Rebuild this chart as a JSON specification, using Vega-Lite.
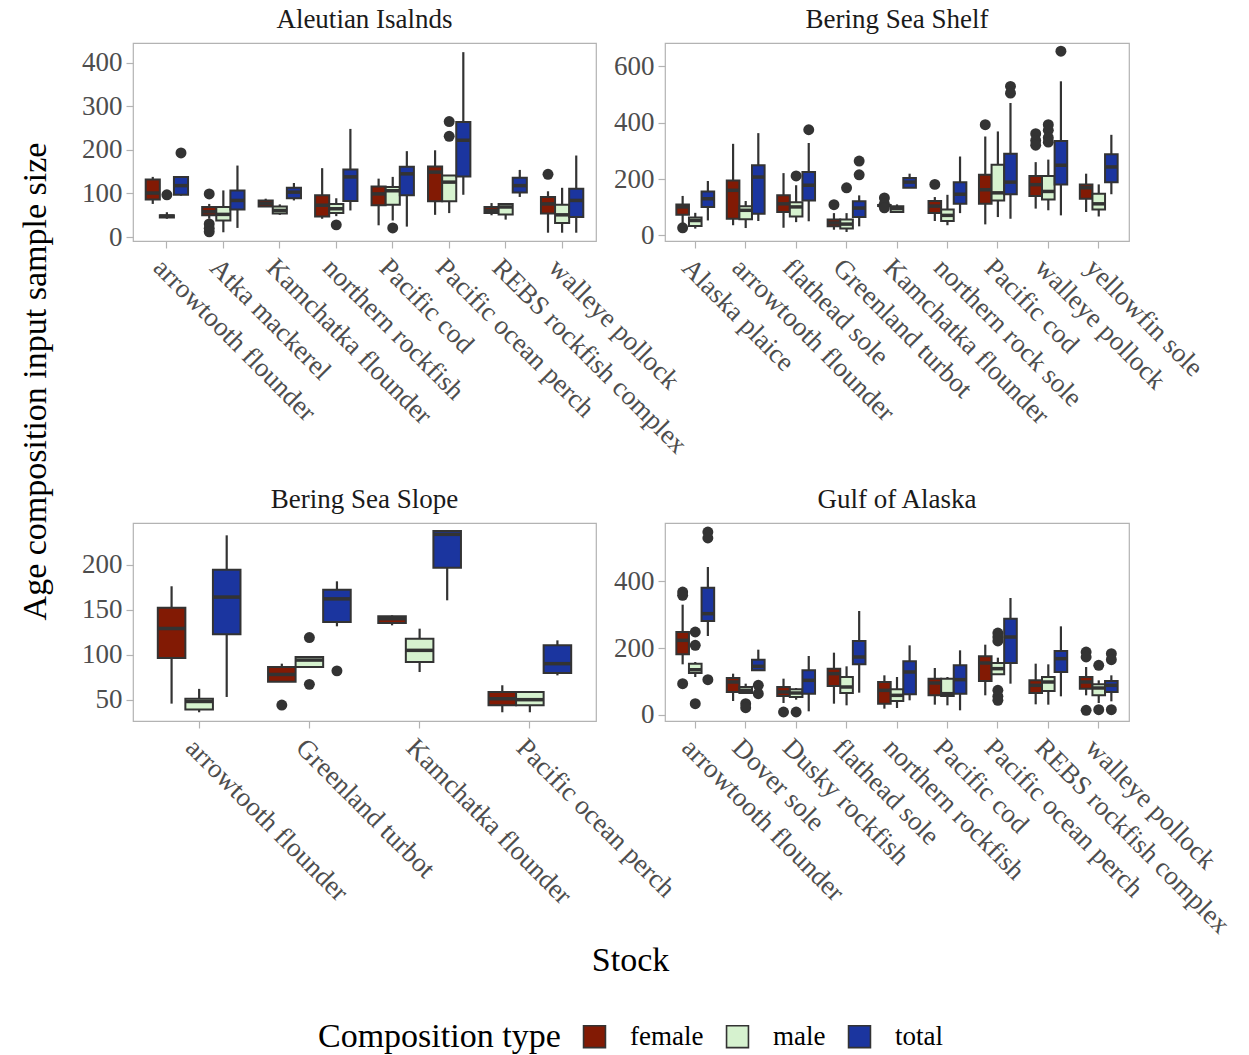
{
  "$schema": "https://vega.github.io/schema/vega-lite/v6.json",
  "padding": {"left": 17, "top": 5, "right": 5, "bottom": 0},
  "datasets": {
    "boxes": [
      {"region": "Aleutian Isalnds", "stock": "arrowtooth flounder", "type": "female", "lower": 76, "q1": 86, "median": 101, "q3": 132, "upper": 138},
      {"region": "Aleutian Isalnds", "stock": "arrowtooth flounder", "type": "male", "lower": 42, "q1": 45, "median": 48, "q3": 50, "upper": 57},
      {"region": "Aleutian Isalnds", "stock": "arrowtooth flounder", "type": "total", "lower": 95, "q1": 97, "median": 118, "q3": 138, "upper": 139},
      {"region": "Aleutian Isalnds", "stock": "Atka mackerel", "type": "female", "lower": 42, "q1": 50, "median": 58, "q3": 69, "upper": 76},
      {"region": "Aleutian Isalnds", "stock": "Atka mackerel", "type": "male", "lower": 11, "q1": 38, "median": 52, "q3": 69, "upper": 107},
      {"region": "Aleutian Isalnds", "stock": "Atka mackerel", "type": "total", "lower": 21, "q1": 63, "median": 84, "q3": 107, "upper": 164},
      {"region": "Aleutian Isalnds", "stock": "Kamchatka flounder", "type": "female", "lower": 69, "q1": 70, "median": 77, "q3": 84, "upper": 88},
      {"region": "Aleutian Isalnds", "stock": "Kamchatka flounder", "type": "male", "lower": 51, "q1": 54, "median": 61, "q3": 70, "upper": 75},
      {"region": "Aleutian Isalnds", "stock": "Kamchatka flounder", "type": "total", "lower": 84, "q1": 89, "median": 103, "q3": 113, "upper": 124},
      {"region": "Aleutian Isalnds", "stock": "northern rockfish", "type": "female", "lower": 42, "q1": 47, "median": 73, "q3": 96, "upper": 158},
      {"region": "Aleutian Isalnds", "stock": "northern rockfish", "type": "male", "lower": 48, "q1": 55, "median": 65, "q3": 76, "upper": 89},
      {"region": "Aleutian Isalnds", "stock": "northern rockfish", "type": "total", "lower": 61, "q1": 83, "median": 138, "q3": 155, "upper": 248},
      {"region": "Aleutian Isalnds", "stock": "Pacific cod", "type": "female", "lower": 27, "q1": 73, "median": 99, "q3": 116, "upper": 134},
      {"region": "Aleutian Isalnds", "stock": "Pacific cod", "type": "male", "lower": 38, "q1": 74, "median": 106, "q3": 115, "upper": 138},
      {"region": "Aleutian Isalnds", "stock": "Pacific cod", "type": "total", "lower": 24, "q1": 96, "median": 145, "q3": 161, "upper": 197},
      {"region": "Aleutian Isalnds", "stock": "Pacific ocean perch", "type": "female", "lower": 51, "q1": 82, "median": 149, "q3": 162, "upper": 199},
      {"region": "Aleutian Isalnds", "stock": "Pacific ocean perch", "type": "male", "lower": 55, "q1": 82, "median": 126, "q3": 141, "upper": 141},
      {"region": "Aleutian Isalnds", "stock": "Pacific ocean perch", "type": "total", "lower": 97, "q1": 139, "median": 222, "q3": 264, "upper": 424},
      {"region": "Aleutian Isalnds", "stock": "REBS rockfish complex", "type": "female", "lower": 50, "q1": 55, "median": 61, "q3": 69, "upper": 78},
      {"region": "Aleutian Isalnds", "stock": "REBS rockfish complex", "type": "male", "lower": 40, "q1": 52, "median": 69, "q3": 76, "upper": 76},
      {"region": "Aleutian Isalnds", "stock": "REBS rockfish complex", "type": "total", "lower": 92, "q1": 102, "median": 118, "q3": 136, "upper": 154},
      {"region": "Aleutian Isalnds", "stock": "walleye pollock", "type": "female", "lower": 10, "q1": 54, "median": 76, "q3": 92, "upper": 105},
      {"region": "Aleutian Isalnds", "stock": "walleye pollock", "type": "male", "lower": 10, "q1": 32, "median": 51, "q3": 74, "upper": 113},
      {"region": "Aleutian Isalnds", "stock": "walleye pollock", "type": "total", "lower": 10, "q1": 46, "median": 84, "q3": 111, "upper": 187},

      {"region": "Bering Sea Shelf", "stock": "Alaska plaice", "type": "female", "lower": 40, "q1": 73, "median": 101, "q3": 110, "upper": 140},
      {"region": "Bering Sea Shelf", "stock": "Alaska plaice", "type": "male", "lower": 24, "q1": 33, "median": 53, "q3": 63, "upper": 80},
      {"region": "Bering Sea Shelf", "stock": "Alaska plaice", "type": "total", "lower": 53, "q1": 101, "median": 130, "q3": 156, "upper": 193},
      {"region": "Bering Sea Shelf", "stock": "arrowtooth flounder", "type": "female", "lower": 36, "q1": 59, "median": 160, "q3": 195, "upper": 325},
      {"region": "Bering Sea Shelf", "stock": "arrowtooth flounder", "type": "male", "lower": 26, "q1": 57, "median": 89, "q3": 103, "upper": 122},
      {"region": "Bering Sea Shelf", "stock": "arrowtooth flounder", "type": "total", "lower": 51, "q1": 77, "median": 207, "q3": 249, "upper": 363},
      {"region": "Bering Sea Shelf", "stock": "flathead sole", "type": "female", "lower": 27, "q1": 83, "median": 112, "q3": 142, "upper": 221},
      {"region": "Bering Sea Shelf", "stock": "flathead sole", "type": "male", "lower": 47, "q1": 67, "median": 101, "q3": 118, "upper": 178},
      {"region": "Bering Sea Shelf", "stock": "flathead sole", "type": "total", "lower": 50, "q1": 124, "median": 178, "q3": 225, "upper": 328},
      {"region": "Bering Sea Shelf", "stock": "Greenland turbot", "type": "female", "lower": 20, "q1": 32, "median": 44, "q3": 56, "upper": 79},
      {"region": "Bering Sea Shelf", "stock": "Greenland turbot", "type": "male", "lower": 12, "q1": 24, "median": 40, "q3": 56, "upper": 79},
      {"region": "Bering Sea Shelf", "stock": "Greenland turbot", "type": "total", "lower": 32, "q1": 65, "median": 97, "q3": 121, "upper": 142},
      {"region": "Bering Sea Shelf", "stock": "Kamchatka flounder", "type": "female", "lower": 104, "q1": 104, "median": 106, "q3": 108, "upper": 108},
      {"region": "Bering Sea Shelf", "stock": "Kamchatka flounder", "type": "male", "lower": 83, "q1": 83, "median": 95, "q3": 103, "upper": 110},
      {"region": "Bering Sea Shelf", "stock": "Kamchatka flounder", "type": "total", "lower": 169, "q1": 169, "median": 189, "q3": 204, "upper": 219},
      {"region": "Bering Sea Shelf", "stock": "northern rock sole", "type": "female", "lower": 51, "q1": 79, "median": 104, "q3": 122, "upper": 136},
      {"region": "Bering Sea Shelf", "stock": "northern rock sole", "type": "male", "lower": 36, "q1": 51, "median": 71, "q3": 92, "upper": 144},
      {"region": "Bering Sea Shelf", "stock": "northern rock sole", "type": "total", "lower": 79, "q1": 112, "median": 146, "q3": 189, "upper": 280},
      {"region": "Bering Sea Shelf", "stock": "Pacific cod", "type": "female", "lower": 39, "q1": 112, "median": 162, "q3": 215, "upper": 351},
      {"region": "Bering Sea Shelf", "stock": "Pacific cod", "type": "male", "lower": 65, "q1": 124, "median": 151, "q3": 251, "upper": 369},
      {"region": "Bering Sea Shelf", "stock": "Pacific cod", "type": "total", "lower": 59, "q1": 146, "median": 189, "q3": 290, "upper": 470},
      {"region": "Bering Sea Shelf", "stock": "walleye pollock", "type": "female", "lower": 95, "q1": 140, "median": 180, "q3": 211, "upper": 260},
      {"region": "Bering Sea Shelf", "stock": "walleye pollock", "type": "male", "lower": 89, "q1": 127, "median": 156, "q3": 211, "upper": 269},
      {"region": "Bering Sea Shelf", "stock": "walleye pollock", "type": "total", "lower": 71, "q1": 181, "median": 249, "q3": 335, "upper": 547},
      {"region": "Bering Sea Shelf", "stock": "yellowfin sole", "type": "female", "lower": 83, "q1": 130, "median": 169, "q3": 181, "upper": 219},
      {"region": "Bering Sea Shelf", "stock": "yellowfin sole", "type": "male", "lower": 67, "q1": 92, "median": 112, "q3": 148, "upper": 181},
      {"region": "Bering Sea Shelf", "stock": "yellowfin sole", "type": "total", "lower": 146, "q1": 189, "median": 243, "q3": 288, "upper": 357},

      {"region": "Bering Sea Slope", "stock": "arrowtooth flounder", "type": "female", "lower": 45.6, "q1": 96.3, "median": 129, "q3": 152.2, "upper": 176},
      {"region": "Bering Sea Slope", "stock": "arrowtooth flounder", "type": "male", "lower": 36, "q1": 39, "median": 48, "q3": 51, "upper": 62},
      {"region": "Bering Sea Slope", "stock": "arrowtooth flounder", "type": "total", "lower": 53, "q1": 122.6, "median": 164, "q3": 194.4, "upper": 232.6},
      {"region": "Bering Sea Slope", "stock": "Greenland turbot", "type": "female", "lower": 70, "q1": 70, "median": 78, "q3": 86.3, "upper": 90},
      {"region": "Bering Sea Slope", "stock": "Greenland turbot", "type": "male", "lower": 86, "q1": 86.3, "median": 94, "q3": 97.4, "upper": 98},
      {"region": "Bering Sea Slope", "stock": "Greenland turbot", "type": "total", "lower": 131.5, "q1": 136.3, "median": 162, "q3": 172, "upper": 181.5},
      {"region": "Bering Sea Slope", "stock": "Kamchatka flounder", "type": "female", "lower": 132.6, "q1": 135.2, "median": 140, "q3": 142.6, "upper": 143.7},
      {"region": "Bering Sea Slope", "stock": "Kamchatka flounder", "type": "male", "lower": 80.7, "q1": 91.9, "median": 104.8, "q3": 117.8, "upper": 128.9},
      {"region": "Bering Sea Slope", "stock": "Kamchatka flounder", "type": "total", "lower": 160.4, "q1": 196.7, "median": 233.7, "q3": 237.4, "upper": 237.4},
      {"region": "Bering Sea Slope", "stock": "Pacific ocean perch", "type": "female", "lower": 36, "q1": 43.7, "median": 51, "q3": 58.5, "upper": 66},
      {"region": "Bering Sea Slope", "stock": "Pacific ocean perch", "type": "male", "lower": 36, "q1": 43.7, "median": 50, "q3": 58.5, "upper": 58.5},
      {"region": "Bering Sea Slope", "stock": "Pacific ocean perch", "type": "total", "lower": 77, "q1": 79.6, "median": 90, "q3": 110.4, "upper": 115.9},

      {"region": "Gulf of Alaska", "stock": "arrowtooth flounder", "type": "female", "lower": 151, "q1": 181, "median": 223, "q3": 248, "upper": 330},
      {"region": "Gulf of Alaska", "stock": "arrowtooth flounder", "type": "male", "lower": 113, "q1": 125, "median": 135, "q3": 153, "upper": 158},
      {"region": "Gulf of Alaska", "stock": "arrowtooth flounder", "type": "total", "lower": 236, "q1": 281, "median": 303, "q3": 381, "upper": 443},
      {"region": "Gulf of Alaska", "stock": "Dover sole", "type": "female", "lower": 41, "q1": 68, "median": 98, "q3": 110, "upper": 123},
      {"region": "Gulf of Alaska", "stock": "Dover sole", "type": "male", "lower": 65, "q1": 65, "median": 73, "q3": 83, "upper": 93},
      {"region": "Gulf of Alaska", "stock": "Dover sole", "type": "total", "lower": 133, "q1": 133, "median": 145, "q3": 165, "upper": 195},
      {"region": "Gulf of Alaska", "stock": "Dusky rockfish", "type": "female", "lower": 35, "q1": 56, "median": 68, "q3": 83, "upper": 108},
      {"region": "Gulf of Alaska", "stock": "Dusky rockfish", "type": "male", "lower": 45, "q1": 53, "median": 65, "q3": 76, "upper": 80},
      {"region": "Gulf of Alaska", "stock": "Dusky rockfish", "type": "total", "lower": 10, "q1": 63, "median": 103, "q3": 133, "upper": 176},
      {"region": "Gulf of Alaska", "stock": "flathead sole", "type": "female", "lower": 33, "q1": 86, "median": 123, "q3": 138, "upper": 186},
      {"region": "Gulf of Alaska", "stock": "flathead sole", "type": "male", "lower": 28, "q1": 65, "median": 83, "q3": 113, "upper": 145},
      {"region": "Gulf of Alaska", "stock": "flathead sole", "type": "total", "lower": 66, "q1": 151, "median": 173, "q3": 221, "upper": 311},
      {"region": "Gulf of Alaska", "stock": "northern rockfish", "type": "female", "lower": 18, "q1": 33, "median": 73, "q3": 98, "upper": 118},
      {"region": "Gulf of Alaska", "stock": "northern rockfish", "type": "male", "lower": 20, "q1": 41, "median": 58, "q3": 76, "upper": 113},
      {"region": "Gulf of Alaska", "stock": "northern rockfish", "type": "total", "lower": 43, "q1": 61, "median": 128, "q3": 160, "upper": 208},
      {"region": "Gulf of Alaska", "stock": "Pacific cod", "type": "female", "lower": 30, "q1": 58, "median": 95, "q3": 108, "upper": 140},
      {"region": "Gulf of Alaska", "stock": "Pacific cod", "type": "male", "lower": 28, "q1": 56, "median": 63, "q3": 108, "upper": 113},
      {"region": "Gulf of Alaska", "stock": "Pacific cod", "type": "total", "lower": 13, "q1": 63, "median": 105, "q3": 148, "upper": 193},
      {"region": "Gulf of Alaska", "stock": "Pacific ocean perch", "type": "female", "lower": 58, "q1": 101, "median": 155, "q3": 175, "upper": 210},
      {"region": "Gulf of Alaska", "stock": "Pacific ocean perch", "type": "male", "lower": 121, "q1": 121, "median": 138, "q3": 155, "upper": 171},
      {"region": "Gulf of Alaska", "stock": "Pacific ocean perch", "type": "total", "lower": 93, "q1": 155, "median": 233, "q3": 288, "upper": 350},
      {"region": "Gulf of Alaska", "stock": "REBS rockfish complex", "type": "female", "lower": 31, "q1": 65, "median": 88, "q3": 103, "upper": 153},
      {"region": "Gulf of Alaska", "stock": "REBS rockfish complex", "type": "male", "lower": 30, "q1": 71, "median": 98, "q3": 113, "upper": 151},
      {"region": "Gulf of Alaska", "stock": "REBS rockfish complex", "type": "total", "lower": 55, "q1": 128, "median": 168, "q3": 191, "upper": 265},
      {"region": "Gulf of Alaska", "stock": "walleye pollock", "type": "female", "lower": 58, "q1": 78, "median": 98, "q3": 113, "upper": 143},
      {"region": "Gulf of Alaska", "stock": "walleye pollock", "type": "male", "lower": 35, "q1": 58, "median": 80, "q3": 91, "upper": 103},
      {"region": "Gulf of Alaska", "stock": "walleye pollock", "type": "total", "lower": 40, "q1": 68, "median": 88, "q3": 101, "upper": 118}
    ],
    "outliers": [
      {"region": "Aleutian Isalnds", "stock": "arrowtooth flounder", "type": "male", "value": 97},
      {"region": "Aleutian Isalnds", "stock": "arrowtooth flounder", "type": "total", "value": 193},
      {"region": "Aleutian Isalnds", "stock": "Atka mackerel", "type": "female", "value": 99},
      {"region": "Aleutian Isalnds", "stock": "Atka mackerel", "type": "female", "value": 30},
      {"region": "Aleutian Isalnds", "stock": "Atka mackerel", "type": "female", "value": 20},
      {"region": "Aleutian Isalnds", "stock": "Atka mackerel", "type": "female", "value": 12},
      {"region": "Aleutian Isalnds", "stock": "northern rockfish", "type": "male", "value": 28},
      {"region": "Aleutian Isalnds", "stock": "Pacific cod", "type": "male", "value": 21},
      {"region": "Aleutian Isalnds", "stock": "Pacific ocean perch", "type": "male", "value": 265},
      {"region": "Aleutian Isalnds", "stock": "Pacific ocean perch", "type": "male", "value": 231},
      {"region": "Aleutian Isalnds", "stock": "walleye pollock", "type": "female", "value": 144},
      {"region": "Bering Sea Shelf", "stock": "Alaska plaice", "type": "female", "value": 27},
      {"region": "Bering Sea Shelf", "stock": "flathead sole", "type": "male", "value": 211},
      {"region": "Bering Sea Shelf", "stock": "flathead sole", "type": "total", "value": 375},
      {"region": "Bering Sea Shelf", "stock": "Greenland turbot", "type": "female", "value": 109},
      {"region": "Bering Sea Shelf", "stock": "Greenland turbot", "type": "male", "value": 169},
      {"region": "Bering Sea Shelf", "stock": "Greenland turbot", "type": "total", "value": 215},
      {"region": "Bering Sea Shelf", "stock": "Greenland turbot", "type": "total", "value": 264},
      {"region": "Bering Sea Shelf", "stock": "Kamchatka flounder", "type": "female", "value": 133},
      {"region": "Bering Sea Shelf", "stock": "Kamchatka flounder", "type": "female", "value": 112},
      {"region": "Bering Sea Shelf", "stock": "Kamchatka flounder", "type": "female", "value": 98},
      {"region": "Bering Sea Shelf", "stock": "northern rock sole", "type": "female", "value": 181},
      {"region": "Bering Sea Shelf", "stock": "Pacific cod", "type": "female", "value": 393},
      {"region": "Bering Sea Shelf", "stock": "Pacific cod", "type": "total", "value": 529},
      {"region": "Bering Sea Shelf", "stock": "Pacific cod", "type": "total", "value": 505},
      {"region": "Bering Sea Shelf", "stock": "walleye pollock", "type": "female", "value": 361},
      {"region": "Bering Sea Shelf", "stock": "walleye pollock", "type": "female", "value": 337},
      {"region": "Bering Sea Shelf", "stock": "walleye pollock", "type": "female", "value": 320},
      {"region": "Bering Sea Shelf", "stock": "walleye pollock", "type": "male", "value": 393},
      {"region": "Bering Sea Shelf", "stock": "walleye pollock", "type": "male", "value": 373},
      {"region": "Bering Sea Shelf", "stock": "walleye pollock", "type": "male", "value": 347},
      {"region": "Bering Sea Shelf", "stock": "walleye pollock", "type": "male", "value": 331},
      {"region": "Bering Sea Shelf", "stock": "walleye pollock", "type": "total", "value": 654},
      {"region": "Bering Sea Slope", "stock": "Greenland turbot", "type": "female", "value": 44},
      {"region": "Bering Sea Slope", "stock": "Greenland turbot", "type": "male", "value": 119},
      {"region": "Bering Sea Slope", "stock": "Greenland turbot", "type": "male", "value": 67},
      {"region": "Bering Sea Slope", "stock": "Greenland turbot", "type": "total", "value": 82},
      {"region": "Gulf of Alaska", "stock": "arrowtooth flounder", "type": "female", "value": 368},
      {"region": "Gulf of Alaska", "stock": "arrowtooth flounder", "type": "female", "value": 358},
      {"region": "Gulf of Alaska", "stock": "arrowtooth flounder", "type": "female", "value": 93},
      {"region": "Gulf of Alaska", "stock": "arrowtooth flounder", "type": "male", "value": 248},
      {"region": "Gulf of Alaska", "stock": "arrowtooth flounder", "type": "male", "value": 208},
      {"region": "Gulf of Alaska", "stock": "arrowtooth flounder", "type": "male", "value": 33},
      {"region": "Gulf of Alaska", "stock": "arrowtooth flounder", "type": "total", "value": 548},
      {"region": "Gulf of Alaska", "stock": "arrowtooth flounder", "type": "total", "value": 530},
      {"region": "Gulf of Alaska", "stock": "arrowtooth flounder", "type": "total", "value": 105},
      {"region": "Gulf of Alaska", "stock": "Dover sole", "type": "male", "value": 33},
      {"region": "Gulf of Alaska", "stock": "Dover sole", "type": "male", "value": 21},
      {"region": "Gulf of Alaska", "stock": "Dover sole", "type": "total", "value": 88},
      {"region": "Gulf of Alaska", "stock": "Dover sole", "type": "total", "value": 63},
      {"region": "Gulf of Alaska", "stock": "Dusky rockfish", "type": "female", "value": 8},
      {"region": "Gulf of Alaska", "stock": "Dusky rockfish", "type": "male", "value": 8},
      {"region": "Gulf of Alaska", "stock": "Pacific ocean perch", "type": "male", "value": 245},
      {"region": "Gulf of Alaska", "stock": "Pacific ocean perch", "type": "male", "value": 233},
      {"region": "Gulf of Alaska", "stock": "Pacific ocean perch", "type": "male", "value": 221},
      {"region": "Gulf of Alaska", "stock": "Pacific ocean perch", "type": "male", "value": 73},
      {"region": "Gulf of Alaska", "stock": "Pacific ocean perch", "type": "male", "value": 55},
      {"region": "Gulf of Alaska", "stock": "Pacific ocean perch", "type": "male", "value": 43},
      {"region": "Gulf of Alaska", "stock": "walleye pollock", "type": "female", "value": 188},
      {"region": "Gulf of Alaska", "stock": "walleye pollock", "type": "female", "value": 173},
      {"region": "Gulf of Alaska", "stock": "walleye pollock", "type": "female", "value": 13},
      {"region": "Gulf of Alaska", "stock": "walleye pollock", "type": "male", "value": 148},
      {"region": "Gulf of Alaska", "stock": "walleye pollock", "type": "male", "value": 15},
      {"region": "Gulf of Alaska", "stock": "walleye pollock", "type": "total", "value": 183},
      {"region": "Gulf of Alaska", "stock": "walleye pollock", "type": "total", "value": 165},
      {"region": "Gulf of Alaska", "stock": "walleye pollock", "type": "total", "value": 15}
    ]
  },
  "columns": 2,
  "spacing": {"row": 282, "column": 69},
  "bounds": "flush",
  "resolve": {"scale": {"x": "independent", "y": "independent", "xOffset": "independent", "color": "shared"}, "axis": {"x": "independent", "y": "independent"}},
  "concat": [
    {
      "width": 463, "height": 198,
      "title": "Aleutian Isalnds",
      "data": {"name": "boxes"},
      "transform": [{"filter": "datum.region == 'Aleutian Isalnds'"}],
      "encoding": {
        "x": {"field": "stock", "type": "nominal", "title": null, "scale": {"domain": ["arrowtooth flounder", "Atka mackerel", "Kamchatka flounder", "northern rockfish", "Pacific cod", "Pacific ocean perch", "REBS rockfish complex", "walleye pollock"], "paddingInner": 0.25, "paddingOuter": 0.225}},
        "xOffset": {"field": "type", "type": "nominal", "scale": {"domain": ["female", "male", "total"], "paddingInner": 0, "paddingOuter": 0}}
      },
      "layer": [
        {"mark": {"type": "rule", "color": "#333333", "strokeWidth": 2.2}, "encoding": {"y": {"field": "lower", "type": "quantitative", "title": "Age composition input sample size", "scale": {"domain": [-9, 445], "nice": false, "zero": false}, "axis": {"values": [0, 100, 200, 300, 400], "titleX": -98, "titleY": 338, "titleAlign": "center", "titleBaseline": "middle", "titleAngle": -90}}, "y2": {"field": "upper"}}},
        {"mark": {"type": "bar", "stroke": "#333333", "strokeWidth": 2}, "encoding": {"y": {"field": "q1", "type": "quantitative", "title": "Age composition input sample size"}, "y2": {"field": "q3"}, "color": {"field": "type", "type": "nominal", "scale": {"domain": ["female", "male", "total"], "range": ["#821a04", "#d6f2cf", "#1b359f"]}, "legend": {"title": "Composition type", "orient": "none", "legendX": 185, "legendY": 980, "direction": "horizontal", "titleOrient": "left"}}}},
        {"mark": {"type": "tick", "color": "#333333", "thickness": 3.5, "size": 14, "opacity": 1}, "encoding": {"y": {"field": "median", "type": "quantitative", "title": "Age composition input sample size"}}},
        {"data": {"name": "outliers"}, "transform": [{"filter": "datum.region == 'Aleutian Isalnds'"}], "mark": {"type": "circle", "color": "#333333", "opacity": 1, "size": 120}, "encoding": {"y": {"field": "value", "type": "quantitative", "title": "Age composition input sample size"}}}
      ]
    },
    {
      "width": 464, "height": 198,
      "title": "Bering Sea Shelf",
      "data": {"name": "boxes"},
      "transform": [{"filter": "datum.region == 'Bering Sea Shelf'"}],
      "encoding": {
        "x": {"field": "stock", "type": "nominal", "title": null, "scale": {"domain": ["Alaska plaice", "arrowtooth flounder", "flathead sole", "Greenland turbot", "Kamchatka flounder", "northern rock sole", "Pacific cod", "walleye pollock", "yellowfin sole"], "paddingInner": 0.25, "paddingOuter": 0.225}},
        "xOffset": {"field": "type", "type": "nominal", "scale": {"domain": ["female", "male", "total"], "paddingInner": 0, "paddingOuter": 0}}
      },
      "layer": [
        {"mark": {"type": "rule", "color": "#333333", "strokeWidth": 2.2}, "encoding": {"y": {"field": "lower", "type": "quantitative", "title": null, "scale": {"domain": [-20, 683], "nice": false, "zero": false}, "axis": {"values": [0, 200, 400, 600]}}, "y2": {"field": "upper"}}},
        {"mark": {"type": "bar", "stroke": "#333333", "strokeWidth": 2}, "encoding": {"y": {"field": "q1", "type": "quantitative", "title": null}, "y2": {"field": "q3"}, "color": {"field": "type", "type": "nominal", "scale": {"domain": ["female", "male", "total"], "range": ["#821a04", "#d6f2cf", "#1b359f"]}, "legend": {"title": "Composition type", "orient": "none", "legendX": 185, "legendY": 980, "direction": "horizontal", "titleOrient": "left"}}}},
        {"mark": {"type": "tick", "color": "#333333", "thickness": 3.5, "size": 12.6, "opacity": 1}, "encoding": {"y": {"field": "median", "type": "quantitative", "title": null}}},
        {"data": {"name": "outliers"}, "transform": [{"filter": "datum.region == 'Bering Sea Shelf'"}], "mark": {"type": "circle", "color": "#333333", "opacity": 1, "size": 120}, "encoding": {"y": {"field": "value", "type": "quantitative", "title": null}}}
      ]
    },
    {
      "width": 463, "height": 198,
      "title": "Bering Sea Slope",
      "data": {"name": "boxes"},
      "transform": [{"filter": "datum.region == 'Bering Sea Slope'"}],
      "encoding": {
        "x": {"field": "stock", "type": "nominal", "title": "Stock", "scale": {"domain": ["arrowtooth flounder", "Greenland turbot", "Kamchatka flounder", "Pacific ocean perch"], "paddingInner": 0.25, "paddingOuter": 0.225}, "axis": {"titleX": 497, "titleY": 239, "titleAlign": "center", "titleBaseline": "middle", "titleAngle": 0}},
        "xOffset": {"field": "type", "type": "nominal", "scale": {"domain": ["female", "male", "total"], "paddingInner": 0, "paddingOuter": 0}}
      },
      "layer": [
        {"mark": {"type": "rule", "color": "#333333", "strokeWidth": 2.2}, "encoding": {"y": {"field": "lower", "type": "quantitative", "title": null, "scale": {"domain": [26.3, 246.3], "nice": false, "zero": false}, "axis": {"values": [50, 100, 150, 200]}}, "y2": {"field": "upper"}}},
        {"mark": {"type": "bar", "stroke": "#333333", "strokeWidth": 2}, "encoding": {"y": {"field": "q1", "type": "quantitative", "title": null}, "y2": {"field": "q3"}, "color": {"field": "type", "type": "nominal", "scale": {"domain": ["female", "male", "total"], "range": ["#821a04", "#d6f2cf", "#1b359f"]}, "legend": {"title": "Composition type", "orient": "none", "legendX": 185, "legendY": 980, "direction": "horizontal", "titleOrient": "left"}}}},
        {"mark": {"type": "tick", "color": "#333333", "thickness": 3.5, "size": 27.5, "opacity": 1}, "encoding": {"y": {"field": "median", "type": "quantitative", "title": null}}},
        {"data": {"name": "outliers"}, "transform": [{"filter": "datum.region == 'Bering Sea Slope'"}], "mark": {"type": "circle", "color": "#333333", "opacity": 1, "size": 120}, "encoding": {"y": {"field": "value", "type": "quantitative", "title": null}}}
      ]
    },
    {
      "width": 464, "height": 198,
      "title": "Gulf of Alaska",
      "data": {"name": "boxes"},
      "transform": [{"filter": "datum.region == 'Gulf of Alaska'"}],
      "encoding": {
        "x": {"field": "stock", "type": "nominal", "title": null, "scale": {"domain": ["arrowtooth flounder", "Dover sole", "Dusky rockfish", "flathead sole", "northern rockfish", "Pacific cod", "Pacific ocean perch", "REBS rockfish complex", "walleye pollock"], "paddingInner": 0.25, "paddingOuter": 0.225}},
        "xOffset": {"field": "type", "type": "nominal", "scale": {"domain": ["female", "male", "total"], "paddingInner": 0, "paddingOuter": 0}}
      },
      "layer": [
        {"mark": {"type": "rule", "color": "#333333", "strokeWidth": 2.2}, "encoding": {"y": {"field": "lower", "type": "quantitative", "title": null, "scale": {"domain": [-19, 575], "nice": false, "zero": false}, "axis": {"values": [0, 200, 400]}}, "y2": {"field": "upper"}}},
        {"mark": {"type": "bar", "stroke": "#333333", "strokeWidth": 2}, "encoding": {"y": {"field": "q1", "type": "quantitative", "title": null}, "y2": {"field": "q3"}, "color": {"field": "type", "type": "nominal", "scale": {"domain": ["female", "male", "total"], "range": ["#821a04", "#d6f2cf", "#1b359f"]}, "legend": {"title": "Composition type", "orient": "none", "legendX": 185, "legendY": 980, "direction": "horizontal", "titleOrient": "left"}}}},
        {"mark": {"type": "tick", "color": "#333333", "thickness": 3.5, "size": 12.6, "opacity": 1}, "encoding": {"y": {"field": "median", "type": "quantitative", "title": null}}},
        {"data": {"name": "outliers"}, "transform": [{"filter": "datum.region == 'Gulf of Alaska'"}], "mark": {"type": "circle", "color": "#333333", "opacity": 1, "size": 120}, "encoding": {"y": {"field": "value", "type": "quantitative", "title": null}}}
      ]
    }
  ],
  "config": {
    "font": "Liberation Serif",
    "background": "white",
    "view": {"stroke": "#b3b3b3", "strokeWidth": 1.2},
    "title": {"font": "Liberation Serif", "fontSize": 27, "fontWeight": "normal", "color": "#1a1a1a", "offset": 9, "anchor": "middle"},
    "axis": {"labelFont": "Liberation Serif", "labelFontSize": 27, "labelColor": "#4d4d4d", "tickColor": "#b3b3b3", "tickSize": 7, "tickWidth": 1.2, "domain": false, "grid": false, "labelPadding": 4, "labelLimit": 1000, "titleFont": "Liberation Serif", "titleFontSize": 34, "titleFontWeight": "normal", "titleColor": "#000000"},
    "axisX": {"labelAngle": 45, "labelAlign": "left", "labelBaseline": "top", "labelPadding": 6},
    "legend": {"titleFont": "Liberation Serif", "titleFontSize": 34, "titleFontWeight": "normal", "titleColor": "#000000", "titlePadding": 20, "titleLimit": 1000, "labelFont": "Liberation Serif", "labelFontSize": 27, "labelColor": "#000000", "labelOffset": 22, "labelLimit": 1000, "symbolType": "square", "symbolSize": 480, "symbolStrokeColor": "#333333", "symbolStrokeWidth": 1.6, "symbolOpacity": 1, "columnPadding": 19, "padding": 0}
  }
}
